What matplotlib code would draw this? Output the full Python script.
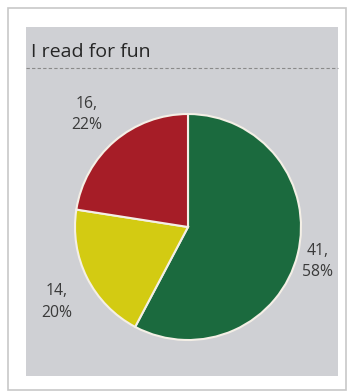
import numpy as np
import matplotlib.pyplot as plt
from matplotlib.patches import Rectangle

# reading survey answers
categories = ["Yes", "Sometimes", "No"]
counts = [41, 14, 16]
percents = [58, 20, 22]
colors = ["#1b6a3e", "#d3cb12", "#a61d27"]
title = "I read for fun"

W, H = 352, 392
fig = plt.figure(figsize=(W / 100, H / 100), dpi=100)
fig.patch.set_facecolor("white")

def px(x, y):
    # pixel coords (top-left origin) to figure fraction
    return x / W, 1 - y / H

# white card with soft edge, grey printed sheet inside
x0, y0 = px(8, 390)
fig.patches.append(Rectangle((x0, y0), 338 / W, 382 / H, transform=fig.transFigure,
                             facecolor="white", edgecolor="#c8c8c8", lw=1.2, zorder=-2))
x0, y0 = px(26, 376)
fig.patches.append(Rectangle((x0, y0), 312 / W, 349 / H, transform=fig.transFigure,
                             facecolor="#cfd0d4", edgecolor="none", zorder=-1))

tx, ty = px(31, 52)
fig.text(tx, ty, title, fontsize=14, family="Open Sans", color="#262626", va="center")
lx0, ly = px(26, 68)
lx1, _ = px(338, 68)
fig.add_artist(plt.Line2D([lx0, lx1], [ly, ly], transform=fig.transFigure,
                          color="#8a8a8a", lw=0.8, ls=(0, (3, 2))))

# pie centred at (188, 227), radius 113 px
r = 113
cx, cy = px(188 - r, 227 + r)
ax = fig.add_axes([cx, cy, 2 * r / W, 2 * r / H])
ax.set_facecolor("none")
wedges, _ = ax.pie(counts, colors=colors, startangle=90, counterclock=False,
                   wedgeprops=dict(edgecolor="#f4efe6", linewidth=1.5))
ax.set_xlim(-1, 1)
ax.set_ylim(-1, 1)
ax.set_aspect("equal")
ax.axis("off")

# data labels outside each slice
dists = [1.19, 1.34, 1.34]
shifts = [-1, 3, 1.5]
for w, n, p, d, s in zip(wedges, counts, percents, dists, shifts):
    ang = np.deg2rad((w.theta1 + w.theta2) / 2 + s)
    ax.text(d * np.cos(ang), d * np.sin(ang), f"{n},\n{p}%", ha="center", va="center",
            fontsize=11.3, family="Open Sans", color="#3a3a3a", linespacing=1.45,
            clip_on=False)

fig.savefig("out.png", dpi=100)
